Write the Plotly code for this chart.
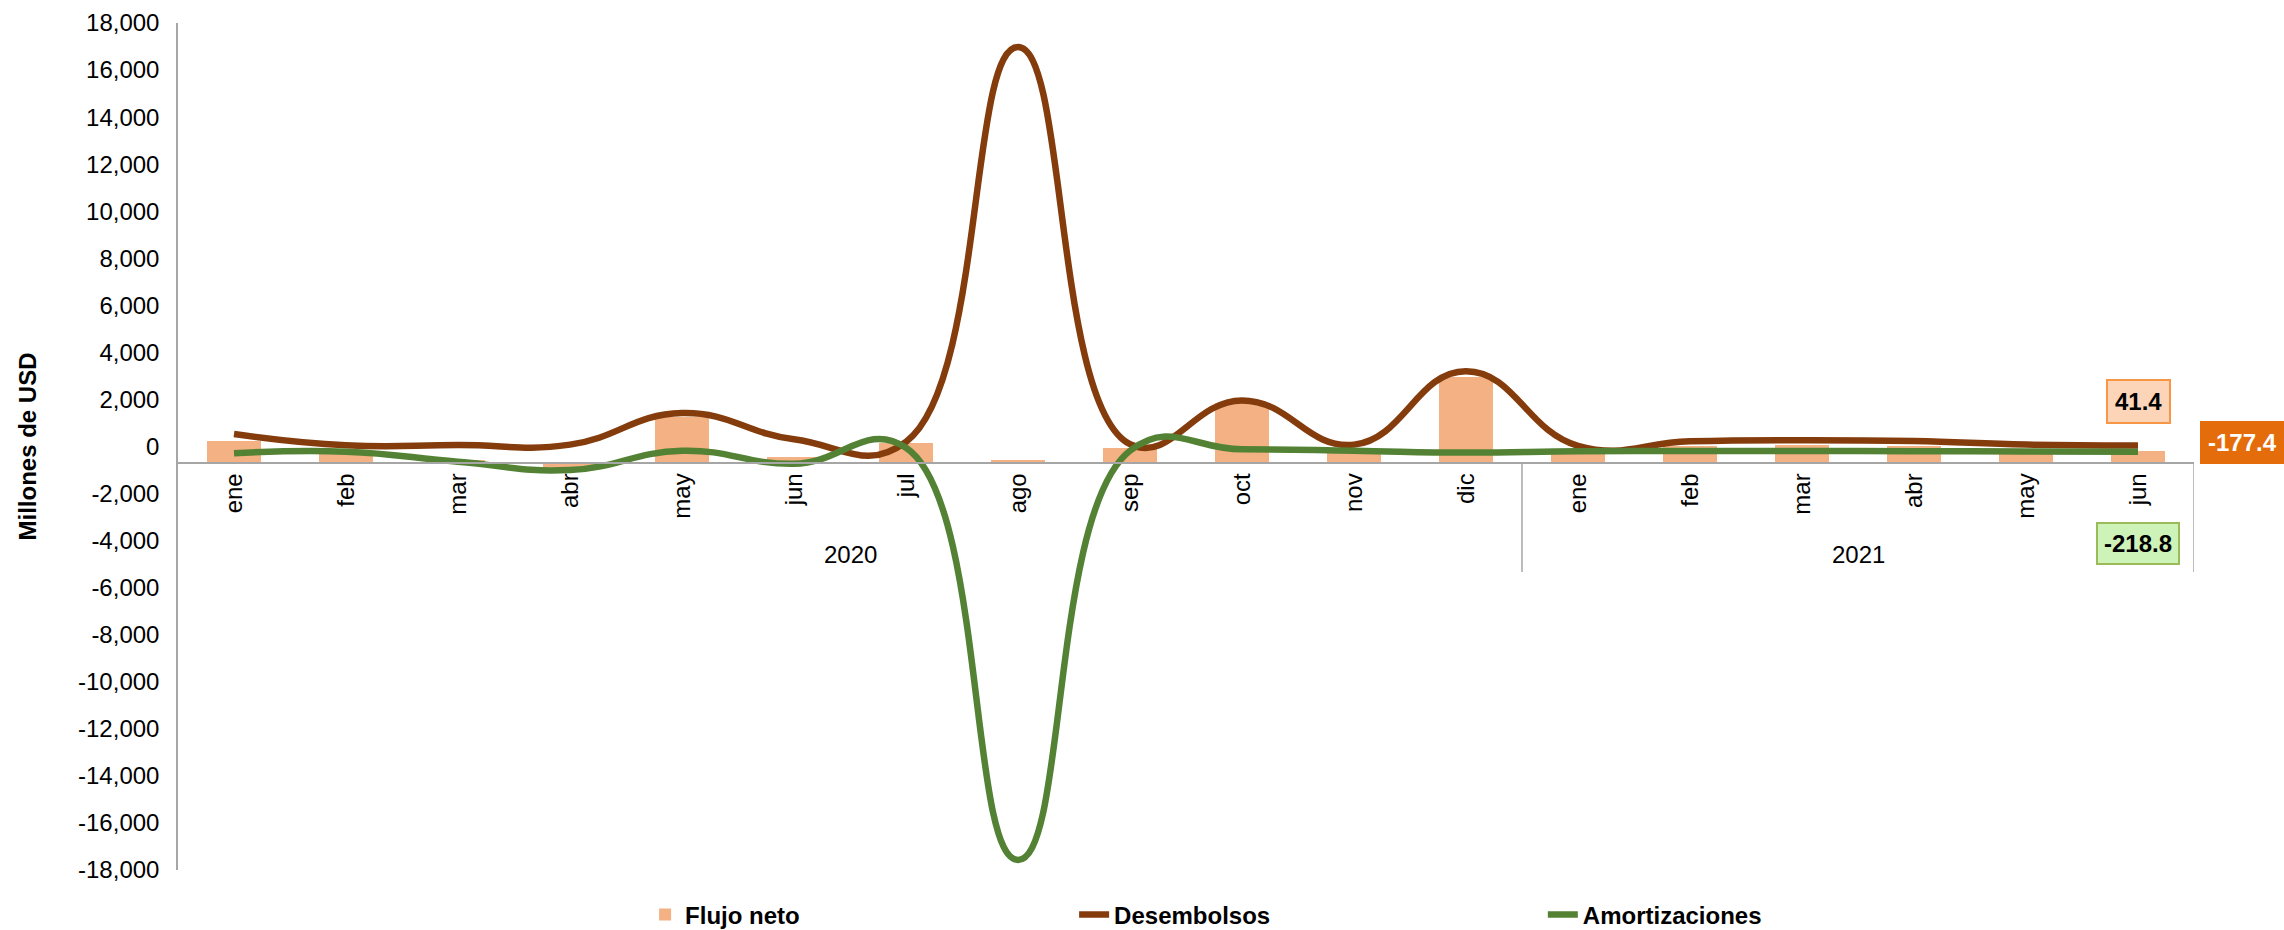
import plotly.graph_objects as go

# ---------------- data ----------------
months = ["ene", "feb", "mar", "abr", "may", "jun", "jul", "ago", "sep", "oct", "nov", "dic",
          "ene", "feb", "mar", "abr", "may", "jun"]
years = ["2020", "2021"]
year_sizes = [12, 6]

flujo_neto = [250, -170, -585, -920, 1240, -430, 150, -590, -80, 1840, -100, 2940,
              -170, 30, 80, 30, -130, -177.4]
desembolsos = [530, 50, 60, 80, 1420, 305, 200, 16980, 100, 1960, 80, 3200,
               30, 220, 270, 230, 80, 41.4]
amortizaciones = [-290, -220, -645, -1000, -180, -735, -50, -17570, -180, -120, -180, -260,
                  -200, -190, -190, -200, -210, -218.8]

y_ticks = list(range(-18000, 18001, 2000))
axis_cross = -700  # value where the category axis crosses the value axis

# ---------------- styling ----------------
FONT = "Liberation Sans, Arial, sans-serif"
C_BAR = "#f4b183"
C_DES = "#843c0c"
C_AMO = "#548235"
C_AXIS = "#a6a6a6"
FS = 24

x = list(range(len(months)))

fig = go.Figure()
fig.add_trace(go.Bar(
    x=x, y=[v - axis_cross for v in flujo_neto], base=axis_cross,
    name="Flujo neto", marker=dict(color=C_BAR, line=dict(width=0)), width=0.49,
    legend="legend",
))
fig.add_trace(go.Scatter(
    x=x, y=desembolsos, name="Desembolsos", mode="lines",
    line=dict(color=C_DES, width=6.5, shape="spline", smoothing=1.3),
    legend="legend2",
))
fig.add_trace(go.Scatter(
    x=x, y=amortizaciones, name="Amortizaciones", mode="lines",
    line=dict(color=C_AMO, width=6.5, shape="spline", smoothing=1.3),
    legend="legend3",
))

ymin, ymax = -18000, 18000
cross_pos = (axis_cross - ymin) / (ymax - ymin)

leg_common = dict(orientation="h", xanchor="left", y=-0.053, yanchor="middle",
                  font=dict(family=FONT, size=FS, color="black", weight="bold"),
                  bgcolor="rgba(0,0,0,0)")

fig.update_layout(
    width=2284, height=930,
    margin=dict(l=178, r=90, t=23, b=60, autoexpand=False),
    paper_bgcolor="white", plot_bgcolor="white",
    font=dict(family=FONT, size=FS, color="black"),
    showlegend=True,
    legend=dict(x=0.2317, **leg_common),
    legend2=dict(x=0.4445, **leg_common),
    legend3=dict(x=0.677, **leg_common),
    bargap=0,
)

fig.update_xaxes(
    range=[-0.5, len(months) - 0.5], tickvals=x, ticktext=months, tickangle=-90,
    showgrid=False, zeroline=False, showline=True, linecolor=C_AXIS, linewidth=1.5,
    ticks="", anchor="free", position=cross_pos, automargin=False,
    tickfont=dict(family=FONT, size=FS, color="black"),
)
fig.update_yaxes(
    range=[ymin, ymax], tickvals=y_ticks, ticktext=[f"{v:,}" for v in y_ticks],
    showgrid=False, zeroline=False, showline=True, linecolor=C_AXIS, linewidth=1.5,
    ticks="", ticklabelstandoff=12, automargin=False,
    tickfont=dict(family=FONT, size=FS, color="black"),
    title=dict(text="Millones de USD", standoff=35,
               font=dict(family=FONT, size=FS, color="black", weight="bold")),
)

# group separators and year labels on the category axis
start = 0
bottom_val = -5330
for yr, n in zip(years, year_sizes):
    end = start + n
    fig.add_shape(type="line", xref="x", yref="y", x0=end - 0.5, x1=end - 0.5,
                  y0=axis_cross, y1=bottom_val, line=dict(color=C_AXIS, width=1.5))
    fig.add_annotation(x=(start + end - 1) / 2, y=-4610, xref="x", yref="y", text=yr,
                       showarrow=False, font=dict(family=FONT, size=FS, color="black"))
    start = end

# data labels for the last month
last = len(months) - 1
fig.add_annotation(x=last, y=desembolsos[last], xref="x", yref="y", yshift=44,
                   text=f"<b>{desembolsos[last]:.1f}</b>", showarrow=False,
                   font=dict(family=FONT, size=FS, color="black"),
                   bgcolor="#fcd5b9", bordercolor="#f79646", borderwidth=2, borderpad=7)
fig.add_annotation(x=last, y=amortizaciones[last], xref="x", yref="y", yshift=-92,
                   text=f"<b>{amortizaciones[last]:.1f}</b>", showarrow=False,
                   font=dict(family=FONT, size=FS, color="black"),
                   bgcolor="#cdf3b9", bordercolor="#9bbb59", borderwidth=2, borderpad=6)
fig.add_annotation(x=last, y=flujo_neto[last], xref="x", yref="y", xshift=104, yshift=8,
                   text=f"<b>{flujo_neto[last]:.1f}</b>", showarrow=False,
                   font=dict(family=FONT, size=FS, color="white"),
                   bgcolor="#e46c0a", bordercolor="#e46c0a", borderwidth=2, borderpad=6)

fig.write_html("out.html", config={"displayModeBar": False},
               post_script="document.body.style.margin='0';document.body.style.overflow='hidden';")
